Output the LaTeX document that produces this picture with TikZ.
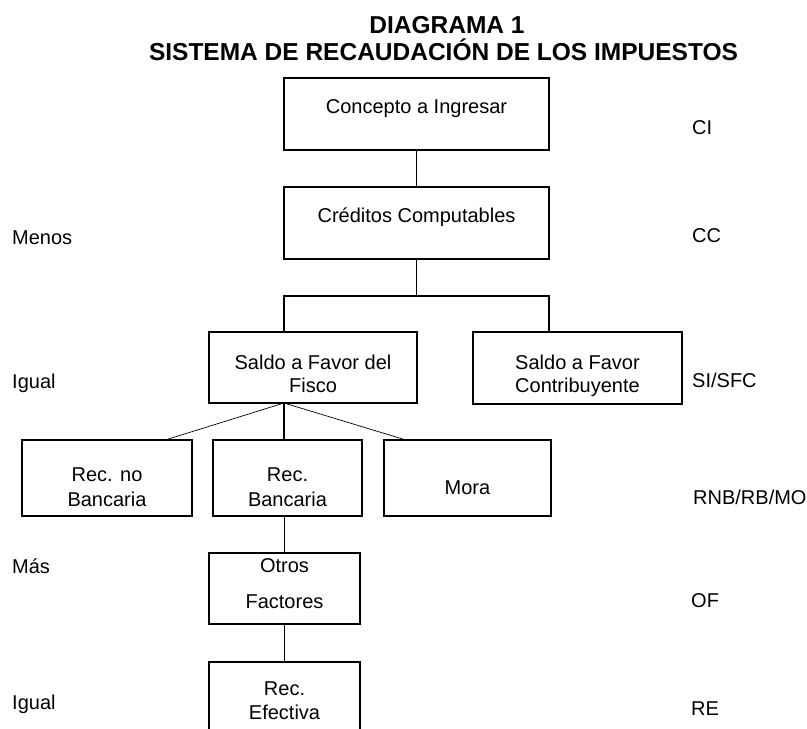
\documentclass[tikz,border=0pt]{standalone}
\usepackage{fontspec}
\setmainfont{Liberation Sans}
\usepackage{tikz}

\begin{document}
\begin{tikzpicture}[
            x=1pt, y=-1pt,
            font=\fontsize{20}{23}\selectfont,
            box/.style={draw, line width=1.8pt, inner sep=0pt},
            link/.style={line width=1.8pt},
            side/.style={anchor=base west, inner sep=0pt},
            ttl/.style={anchor=base, inner sep=0pt, font=\fontsize{24.5}{28}\selectfont\bfseries}
        ]
            \useasboundingbox (0,0) rectangle (807,729);
            \clip (0,0) rectangle (807,729);

            \node[ttl] (tit1) at (447,33) {DIAGRAMA 1};
            \node[ttl] (tit2) at (443.5,60) {SISTEMA DE RECAUDACIÓN DE LOS IMPUESTOS};

            \node[box, minimum width=265pt, minimum height=72pt,
                label={[yshift=5pt]center:Concepto a Ingresar}] (ci) at (416.5,114) {};
            \node[box, minimum width=265pt, minimum height=72pt,
                label={[yshift=6pt]center:Créditos Computables}] (cc) at (416.5,223) {};

            \node[box, minimum width=208pt, minimum height=71pt,
                label={[yshift=-6pt, align=center]center:Saldo a Favor del\\Fisco}] (sfi) at (313,367.5) {};
            \node[box, minimum width=209pt, minimum height=72pt,
                label={[yshift=-8pt, align=center]center:Saldo a Favor\\Contribuyente}] (sfc) at (577.5,368) {};

            \node[box, minimum width=170pt, minimum height=76pt,
                label={[yshift=-9pt, align=center]center:Rec. no\\[2pt]Bancaria}] (rnb) at (107,478) {};
            \node[box, minimum width=149pt, minimum height=76pt,
                label={[yshift=-9pt, align=center]center:Rec.\\[2pt]Bancaria}] (rb) at (287.5,478) {};
            \node[box, minimum width=167pt, minimum height=76pt,
                label={[yshift=-10pt]center:Mora}] (mo) at (467.5,478) {};

            \node[box, minimum width=151pt, minimum height=71pt,
                label={[yshift=5pt, align=center]center:Otros\\[13pt]Factores}] (of) at (284.5,588.5) {};
            \node[box, minimum width=151pt, minimum height=83pt,
                label={[yshift=3pt, align=center]center:Rec.\\[1pt]Efectiva}] (re) at (284.5,703.5) {};

            \coordinate (fl) at (284,296);
            \coordinate (fr) at (549,296);
            \coordinate (fan) at (284,403);

            \draw[link] (ci) -- (cc);
            \draw[link] (cc.south) -- (cc.south |- fl);
            \draw[link] (sfi.north -| fl) -- (fl) -- (fr) -- (fr |- sfc.north);
            \draw[line width=0.7pt] (fan) -- ([xshift=61pt]rnb.north);
            \draw[line width=0.7pt] (fan) -- ([xshift=-64.5pt]mo.north);
            \draw[link] (fan) -- (fan |- rb.north);
            \draw[link] (of.north) -- (of.north |- rb.south);
            \draw[link] (of) -- (re);

            \foreach \y/\t [count=\i] in {244/Menos, 388/Igual, 573/Más, 709/Igual} {
                \node[side] (left\i) at (12,\y) {\t};
            }

            \node[side] (ci-r) at (692,134) {CI};
            \node[side] (cc-r) at (692,242) {CC};
            \node[side] (sf-r) at (692,387) {SI/SFC};
            \node[side] (rec-r) at (693,504) {RNB/RB/MO};
            \node[side] (of-r) at (691,607) {OF};
            \node[side] (re-r) at (691,715) {RE};
        \end{tikzpicture}
\end{document}
